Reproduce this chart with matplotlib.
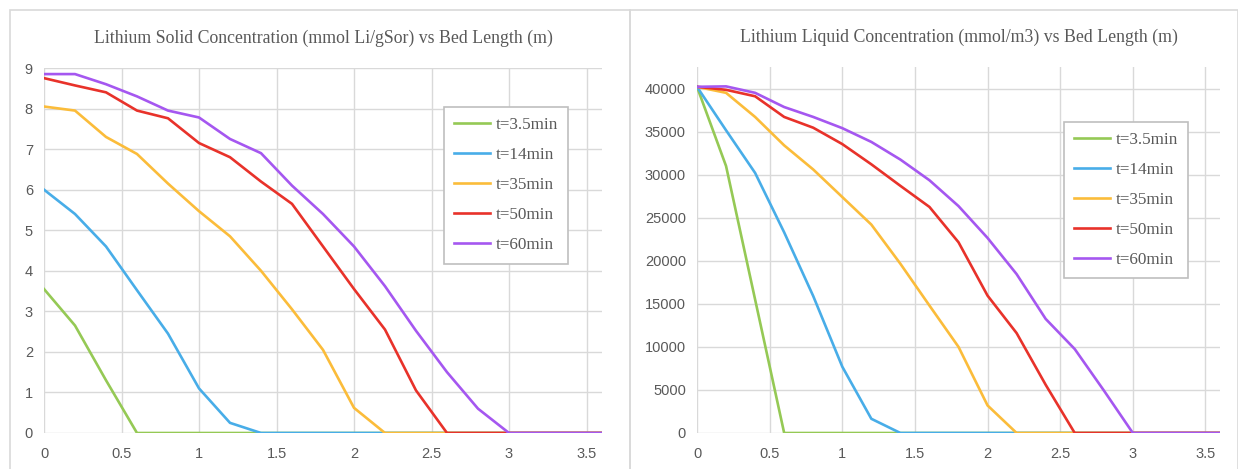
import matplotlib.pyplot as plt

# Datos: longitud del lecho (m) y concentraciones por tiempo
bed_length = [0, 0.2, 0.4, 0.6, 0.8, 1.0, 1.2, 1.4, 1.6, 1.8, 2.0, 2.2, 2.4, 2.6, 2.8, 3.0, 3.2, 3.4, 3.6]
labels = ['t=3.5min', 't=14min', 't=35min', 't=50min', 't=60min']
colors = ['#95C955', '#48ADE8', '#FBBC3A', '#E8322A', '#A557F0']

# Concentracion solida (mmol Li/gSor)
solid_35 = [3.55, 2.65, 1.3, 0, 0, 0, 0, 0, 0, 0, 0, 0, 0, 0, 0, 0, 0, 0, 0]
solid_14 = [6.0, 5.4, 4.6, 3.52, 2.45, 1.1, 0.25, 0, 0, 0, 0, 0, 0, 0, 0, 0, 0, 0, 0]
solid_35m = [8.05, 7.95, 7.3, 6.88, 6.15, 5.47, 4.85, 4.0, 3.05, 2.05, 0.62, 0, 0, 0, 0, 0, 0, 0, 0]
solid_50 = [8.75, 8.57, 8.4, 7.95, 7.76, 7.15, 6.8, 6.2, 5.65, 4.6, 3.55, 2.55, 1.05, 0, 0, 0, 0, 0, 0]
solid_60 = [8.85, 8.85, 8.6, 8.3, 7.95, 7.78, 7.25, 6.9, 6.1, 5.4, 4.6, 3.62, 2.52, 1.5, 0.6, 0, 0, 0, 0]

# Concentracion liquida (mmol/m3)
liquid_35 = [40200, 31000, 15500, 0, 0, 0, 0, 0, 0, 0, 0, 0, 0, 0, 0, 0, 0, 0, 0]
liquid_14 = [40200, 35150, 30200, 23300, 15900, 7700, 1650, 0, 0, 0, 0, 0, 0, 0, 0, 0, 0, 0, 0]
liquid_35m = [40200, 39500, 36700, 33400, 30600, 27400, 24200, 19650, 14800, 10000, 3200, 0, 0, 0, 0, 0, 0, 0, 0]
liquid_50 = [40200, 39850, 39100, 36700, 35450, 33550, 31200, 28700, 26250, 22150, 15950, 11600, 5600, 0, 0, 0, 0, 0, 0]
liquid_60 = [40200, 40250, 39500, 37850, 36700, 35400, 33800, 31750, 29350, 26350, 22650, 18450, 13250, 9750, 4950, 0, 0, 0, 0]

solid = [solid_35, solid_14, solid_35m, solid_50, solid_60]
liquid = [liquid_35, liquid_14, liquid_35m, liquid_50, liquid_60]

plt.rcParams['font.family'] = ['Liberation Sans', 'DejaVu Sans']
grey = '#595959'

fig = plt.figure(figsize=(12.38, 4.69), dpi=100)

# Marcos de los graficos (estilo Excel)
for x0, w in [(10, 620), (630, 608)]:
    fig.patches.append(plt.Rectangle((x0 / 1238, -0.05), w / 1238, (469 - 10) / 469 + 0.05,
                                     transform=fig.transFigure, fill=False,
                                     edgecolor='#d9d9d9', linewidth=1.2))

ax1 = fig.add_axes([44 / 1238, 1 - 433 / 469, 558 / 1238, 365 / 469])
ax2 = fig.add_axes([697 / 1238, 1 - 433 / 469, 523 / 1238, 366 / 469])

def style(ax, title, ylim, yticks, leg_anchor, title_pad):
    ax.set_xlim(0, 3.6)
    ax.set_ylim(*ylim)
    ax.set_xticks([0, 0.5, 1, 1.5, 2, 2.5, 3, 3.5])
    ax.set_xticklabels(['0', '0.5', '1', '1.5', '2', '2.5', '3', '3.5'])
    ax.set_yticks(yticks)
    ax.grid(color='#d9d9d9', linewidth=1.0)
    ax.set_axisbelow(True)
    for s in ax.spines.values():
        s.set_visible(False)
    ax.tick_params(length=0, labelsize=10.5, colors=grey)
    ax.tick_params(axis='x', pad=10)
    ax.tick_params(axis='y', pad=8)
    ax.set_title(title, fontsize=12.8, color=grey, family='Liberation Serif', pad=title_pad)
    leg = ax.legend(loc='upper left', bbox_to_anchor=leg_anchor, borderaxespad=0,
                    fancybox=False, edgecolor='#bfbfbf', framealpha=1,
                    handlelength=2.1, handletextpad=0.3, labelspacing=0.82,
                    borderpad=0.6, prop={'family': 'Liberation Serif', 'size': 12.3})
    for t in leg.get_texts():
        t.set_color(grey)
    leg.get_frame().set_linewidth(1.2)

for vals, lab, c in zip(solid, labels, colors):
    ax1.plot(bed_length, vals, color=c, linewidth=1.9, label=lab)
for vals, lab, c in zip(liquid, labels, colors):
    ax2.plot(bed_length, vals, color=c, linewidth=1.9, label=lab)

style(ax1, 'Lithium Solid Concentration (mmol Li/gSor) vs Bed Length (m)',
      (0, 9), range(0, 10), (0.717, 0.893), 18)
style(ax2, 'Lithium Liquid Concentration (mmol/m3) vs Bed Length (m)',
      (0, 42500), range(0, 40001, 5000), (0.702, 0.85), 18)

plt.savefig('out.png', dpi=100)
